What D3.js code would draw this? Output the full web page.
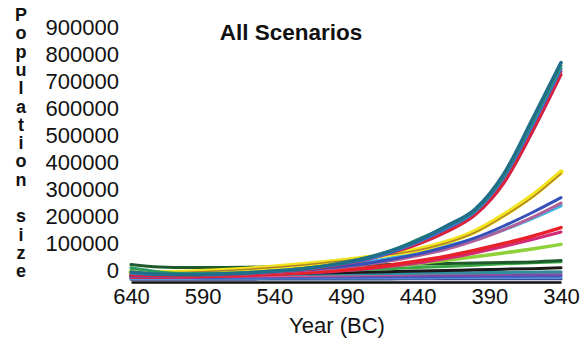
<!DOCTYPE html>
<html>
<head>
<meta charset="utf-8">
<script src="https://cdn.jsdelivr.net/npm/d3@7"></script>
<style>
  body { margin: 0; background: #fff; }
  text { font-family: "Liberation Sans", Arial, sans-serif; fill: #111; }
</style>
</head>
<body>
<div class="chart"></div>
<script>
// years (BC), one point every 20 years
const years = [640, 620, 600, 580, 560, 540, 520, 500, 480, 460, 440, 420, 400, 380, 360, 340]
const yTicks = [0, 100000, 200000, 300000, 400000, 500000, 600000, 700000, 800000, 900000]
const xTicks = [640, 590, 540, 490, 440, 390, 340]
const yLabel = "Population size"

// low scenarios
const navy     = [3000, 3000, 3000, 3000, 3000, 3500, 3500, 4000, 4000, 4000, 4500, 4500, 5000, 5000, 5000, 5000]
const lightBlue= [6000, 6000, 6000, 6500, 6500, 7000, 7000, 7000, 7500, 7500, 7500, 8000, 8000, 8000, 8500, 8500]
const blueLow  = [9000, 9000, 9000, 9500, 10000, 10000, 10500, 11000, 11500, 12000, 12000, 13000, 13500, 14000, 14500, 15000]
const purpleLow= [12000, 12000, 12000, 12500, 13000, 13500, 14000, 15000, 15500, 16000, 17000, 17500, 18000, 19000, 19500, 20000]
const pinkLow  = [15000, 14000, 14000, 14500, 15000, 16000, 17000, 18000, 19000, 21000, 23000, 25000, 26000, 27000, 28000, 29000]
const tealLow  = [20000, 18000, 18000, 18500, 19000, 20000, 21000, 22000, 23000, 24000, 25000, 26000, 27000, 28000, 29000, 30000]
const black    = [22000, 20000, 20000, 21000, 22000, 23000, 25000, 27000, 29000, 31000, 33000, 35000, 38000, 40000, 42000, 45000]
const green    = [35000, 29000, 26000, 26000, 27000, 29000, 31000, 34000, 38000, 42000, 46000, 50000, 55000, 60000, 64000, 68000]
const darkGreen= [57000, 48000, 46000, 46000, 47000, 49000, 51000, 53000, 55000, 57000, 59000, 61000, 63000, 65000, 67000, 72000]
const lime     = [24000, 21000, 21000, 22000, 24000, 27000, 31000, 36000, 43000, 51000, 61000, 73000, 86000, 100000, 115000, 132000]
// middle scenarios
const magenta  = [10000, 10000, 11000, 13000, 16000, 20000, 25000, 31000, 39000, 50000, 63000, 80000, 100000, 124000, 150000, 178000]
const red      = [12000, 12000, 13000, 15000, 18000, 22000, 27000, 34000, 43000, 55000, 70000, 88000, 110000, 135000, 162000, 194000]
const cyan     = [20000, 18000, 18000, 20000, 24000, 30000, 38000, 48000, 62000, 80000, 102000, 126000, 152000, 186000, 228000, 275000]
const mauve    = [14000, 14000, 16000, 19000, 22000, 28000, 35000, 43000, 55000, 70000, 90000, 114000, 146000, 186000, 232000, 285000]
const blueMid  = [15000, 15000, 17000, 20000, 24000, 30000, 37000, 46000, 58000, 75000, 96000, 122000, 156000, 200000, 250000, 305000]
const yellow   = [28000, 28000, 30000, 34000, 40000, 48000, 57000, 68000, 80000, 95000, 112000, 140000, 180000, 240000, 312000, 400000]
const brown    = [27000, 27000, 29000, 33000, 39000, 47000, 56000, 67000, 79000, 94000, 110000, 137000, 176000, 236000, 306000, 394000]
// high scenarios
const crimson  = [18000, 16000, 17000, 19000, 23000, 29000, 38000, 51000, 70000, 98000, 132000, 178000, 240000, 358000, 548000, 760000]
const redHigh  = [20000, 18000, 18000, 20000, 24000, 30000, 39000, 53000, 73000, 102000, 136000, 182000, 245000, 366000, 560000, 772000]
const blueHigh = [25000, 20000, 19000, 21000, 25000, 31000, 40000, 53000, 72000, 100000, 140000, 190000, 252000, 378000, 572000, 782000]
const greenHigh= [45000, 30000, 24000, 25000, 28000, 34000, 43000, 57000, 78000, 106000, 150000, 198000, 258000, 386000, 585000, 792000]
const teal     = [30000, 22000, 20000, 22000, 26000, 33000, 42000, 56000, 76000, 106000, 146000, 200000, 262000, 392000, 595000, 805000]

const series = [
  {v: navy, c: "#263a80", w: 3},
  {v: lightBlue, c: "#5f8fd8", w: 3},
  {v: blueLow, c: "#3a5cc0", w: 3},
  {v: purpleLow, c: "#7a4aa8", w: 3},
  {v: pinkLow, c: "#d25a8e", w: 3},
  {v: tealLow, c: "#2f8f9f", w: 3},
  {v: black, c: "#1a1a1a", w: 3},
  {v: green, c: "#3aa845", w: 3},
  {v: darkGreen, c: "#1e5a2c", w: 3},
  {v: lime, c: "#8fd13a", w: 3.5},
  {v: magenta, c: "#d02a78", w: 3},
  {v: red, c: "#e8202a", w: 3.5},
  {v: cyan, c: "#3fb6e0", w: 3.5},
  {v: mauve, c: "#b0609a", w: 3},
  {v: blueMid, c: "#3550b8", w: 3},
  {v: yellow, c: "#f2e41c", w: 5},
  {v: brown, c: "#b0802a", w: 1.5},
  {v: crimson, c: "#c81e4a", w: 3},
  {v: redHigh, c: "#e3262f", w: 3},
  {v: blueHigh, c: "#3b6fd0", w: 3},
  {v: greenHigh, c: "#2e9b63", w: 3},
  {v: teal, c: "#1f6f8b", w: 3.5}
]

const width = 586
const height = 339

const svg = d3.select(".chart")
  .append("svg")
  .attr("width", width)
  .attr("height", height)

const xScale = d3.scaleLinear()
  .domain([640, 340])
  .range([131, 561])

const yScale = d3.scaleLinear()
  .domain([0, 900000])
  .range([280, 37])

const line = d3.line()
  .x((d, i) => xScale(years[i]))
  .y(d => yScale(d))
  .curve(d3.curveMonotoneX)

svg.append("g")
  .selectAll("path")
  .data(series)
  .enter()
  .append("path")
  .attr("d", d => line(d.v))
  .attr("fill", "none")
  .attr("stroke", d => d.c)
  .attr("stroke-width", d => d.w)
  .attr("stroke-linecap", "round")
  .attr("stroke-linejoin", "round")

// x axis: thick black base line, no ticks
const xAxis = svg.append("g")
  .attr("transform", `translate(0,${yScale(0) + 2})`)
  .call(d3.axisBottom(xScale).tickValues(xTicks).tickSize(0).tickPadding(6).tickFormat(d3.format("d")))
xAxis.select(".domain").attr("stroke", "#111").attr("stroke-width", 2.5)
xAxis.selectAll("text").style("font-size", "22px").attr("fill", "#111")

// y axis: labels only
const yAxis = svg.append("g")
  .attr("transform", "translate(119,0)")
  .call(d3.axisLeft(yScale).tickValues(yTicks).tickSize(0).tickPadding(0).tickFormat(d3.format("d")))
yAxis.select(".domain").remove()
yAxis.selectAll("text").style("font-size", "22px").attr("fill", "#111").attr("y", -9.5)

svg.append("text")
  .attr("x", 291)
  .attr("y", 40)
  .attr("text-anchor", "middle")
  .style("font-size", "22.5px")
  .style("font-weight", "bold")
  .text("All Scenarios")

svg.append("text")
  .attr("x", 337)
  .attr("y", 333)
  .attr("text-anchor", "middle")
  .style("font-size", "22px")
  .text("Year (BC)")

// stacked, upright letters for the y label
const yTitle = svg.append("text")
  .attr("text-anchor", "middle")
  .style("font-size", "18px")
  .style("font-weight", "900")
yTitle.selectAll("tspan")
  .data(yLabel.split(""))
  .enter()
  .append("tspan")
  .attr("x", 21)
  .attr("y", (d, i) => 21 + i * 18.3)
  .text(d => d)
</script>
</body>
</html>
